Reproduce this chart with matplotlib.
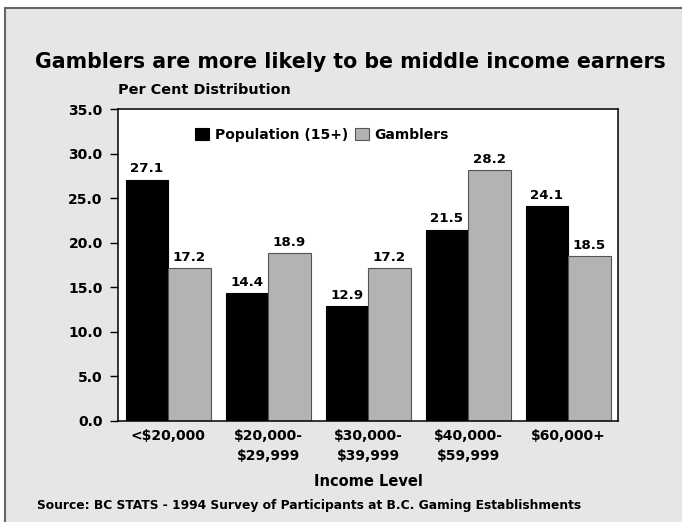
import matplotlib
matplotlib.use("Agg")
import matplotlib.pyplot as plt
from matplotlib.patches import Rectangle
import numpy as np

plt.rcParams['font.family'] = ['DejaVu Sans']
plt.rcParams['font.weight'] = 'bold'

income_levels = ['<$20,000', '$20,000-\n$29,999', '$30,000-\n$39,999',
                 '$40,000-\n$59,999', '$60,000+']
population = [27.1, 14.4, 12.9, 21.5, 24.1]
gamblers = [17.2, 18.9, 17.2, 28.2, 18.5]
y_ticks = [0, 5, 10, 15, 20, 25, 30, 35]

W, H = 682, 522
bg = '#e6e6e6'
fig = plt.figure(figsize=(W / 100, H / 100), dpi=100, facecolor='white')

# grey panel, its border only shows along the top and left
fig.patches.append(Rectangle((5 / W, -1), 2, 2 - 8 / H, transform=fig.transFigure,
                             facecolor=bg, edgecolor='#666666', linewidth=1.5,
                             zorder=-1))

ax = fig.add_axes([118 / W, 101 / H, 500 / W, 311.7 / H])
ax.set_facecolor('white')

x = np.arange(len(income_levels))
w = 0.425
b1 = ax.bar(x - w / 2, population, w, color='black', edgecolor='black',
            linewidth=0.8, label='Population (15+)')
b2 = ax.bar(x + w / 2, gamblers, w, color='#b3b3b3', edgecolor='#555555',
            linewidth=0.8, label='Gamblers')

for bars, vals in ((b1, population), (b2, gamblers)):
    for rect, v in zip(bars, vals):
        ax.annotate(f'{v:.1f}', (rect.get_x() + rect.get_width() / 2, v),
                    xytext=(0, 3), textcoords='offset points',
                    ha='center', va='bottom', fontsize=9.6, fontweight='bold')

ax.set_xlim(-0.5, 4.5)
ax.set_ylim(0, 35)
ax.set_yticks(y_ticks)
ax.set_yticklabels([f'{t:.1f}' for t in y_ticks], fontsize=10, fontweight='bold')
ax.set_xticks(x)
ax.set_xticklabels(income_levels, fontsize=10, fontweight='bold', linespacing=1.5)
ax.tick_params(axis='y', direction='out', length=6, width=1, pad=5)
ax.tick_params(axis='x', length=0, pad=6)
for s in ax.spines.values():
    s.set_linewidth(1.1)

ax.legend(loc='center', bbox_to_anchor=(0.408, (522 - 134.5 - 101) / 311.7),
          ncol=2, frameon=False, fontsize=10, handlelength=1.0,
          handleheight=1.0, handletextpad=0.4, columnspacing=0.5,
          borderaxespad=0)

fig.text(350 / W, 1 - 62 / H, 'Gamblers are more likely to be middle income earners',
         ha='center', va='center', fontsize=14.8, fontweight='bold')
fig.text(118 / W, 1 - 90 / H, 'Per Cent Distribution', ha='left', va='center',
         fontsize=10.4, fontweight='bold')
fig.text(368 / W, 1 - 481 / H, 'Income Level', ha='center', va='center',
         fontsize=10.5, fontweight='bold')
fig.text(37 / W, 1 - 506 / H,
         'Source: BC STATS - 1994 Survey of Participants at B.C. Gaming Establishments',
         ha='left', va='center', fontsize=8.8, fontweight='bold')

fig.savefig('out.png', dpi=100, facecolor=fig.get_facecolor())
